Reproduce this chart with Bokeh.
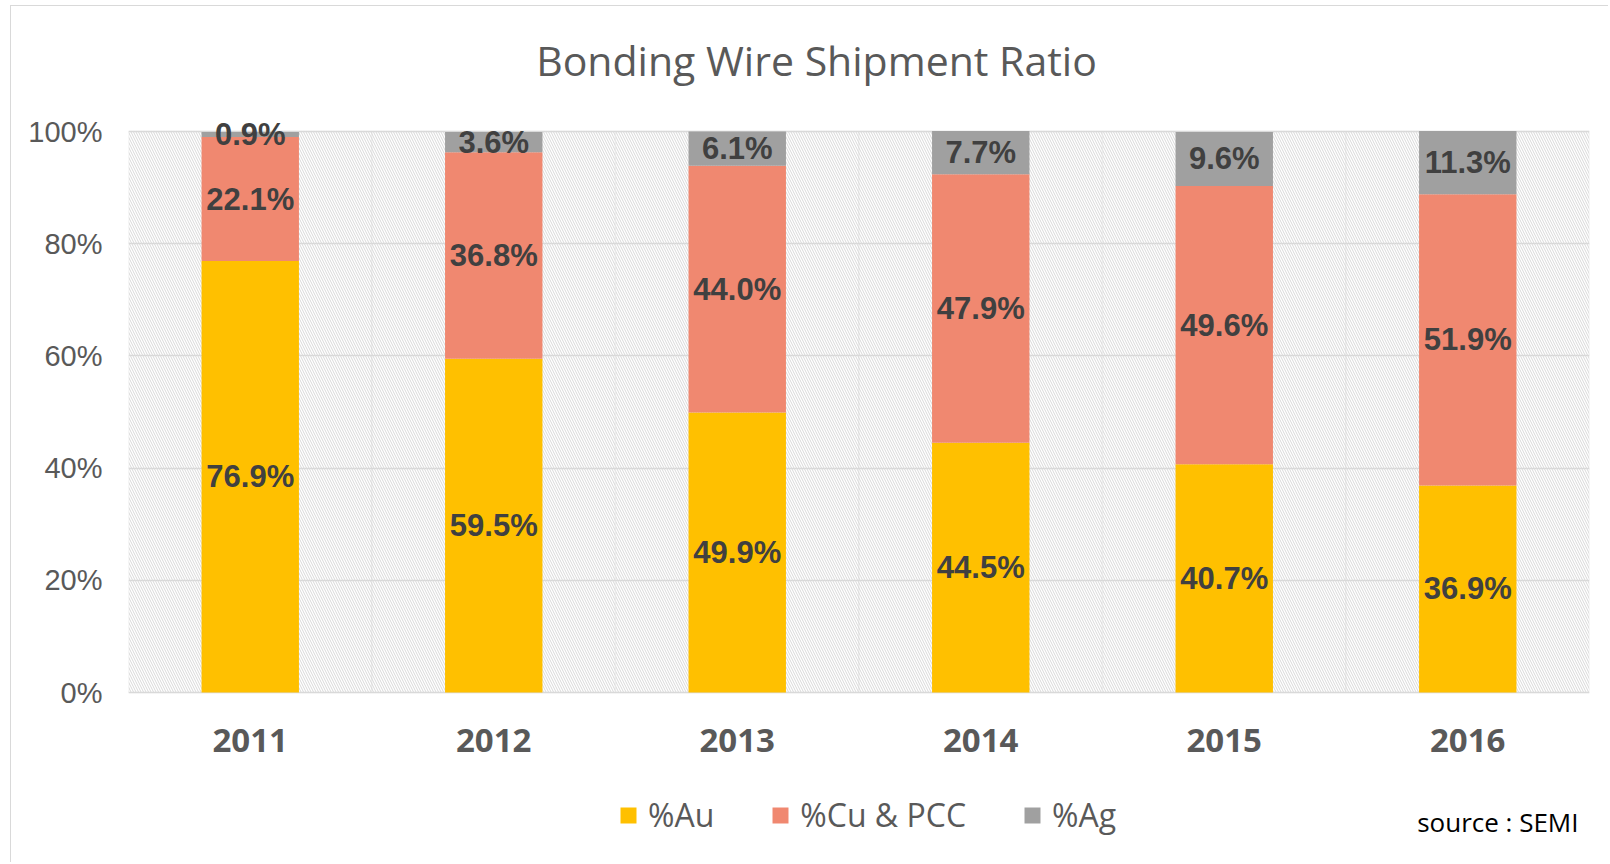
from bokeh.plotting import figure
from bokeh.models import (ColumnDataSource, LabelSet, Label, Legend, LegendItem,
                          FixedTicker, PrintfTickFormatter, BoxAnnotation,
                          FactorRange, Range1d)
from bokeh.core.properties import value
from bokeh.embed import file_html
from bokeh.resources import INLINE

# ---- data ----
years = ["2011", "2012", "2013", "2014", "2015", "2016"]
au = [76.9, 59.5, 49.9, 44.5, 40.7, 36.9]
cu = [22.1, 36.8, 44.0, 47.9, 49.6, 51.9]
ag = [0.9, 3.6, 6.1, 7.7, 9.6, 11.3]
series_keys = ["au", "cu", "ag"]
series_names = ["%Au", "%Cu & PCC", "%Ag"]
colors = ["#FFC000", "#F08870", "#A0A0A0"]
y_ticks = [0, 20, 40, 60, 80, 100]
title_text = "Bonding Wire Shipment Ratio"
source_text = "source : SEMI"

# ---- layout (pixels) ----
W, H = 1598, 857           # canvas, placed at page x=11, y=6
CANVAS_TOP = 6
FRAME_BOTTOM = CANVAS_TOP + H   # the frame spans the whole canvas height
Y100_PX, Y0_PX = 131, 692       # where 100% and 0% lie on the page
ppu = (Y0_PX - Y100_PX) / 100.0
y_start = -(FRAME_BOTTOM - Y0_PX) / ppu
y_end = 100 + (Y100_PX - CANVAS_TOP) / ppu

src = ColumnDataSource(dict(year=years, au=au, cu=cu, ag=ag))

p = figure(x_range=FactorRange(*years), y_range=Range1d(y_start, y_end),
           width=W, height=H, output_backend="svg", toolbar_location=None,
           min_border_left=117, min_border_right=20, min_border_top=0,
           min_border_bottom=0)
p.background_fill_color = "white"
p.border_fill_color = "white"
p.outline_line_color = None

# hatched plot area, one cell per category (gives the vertical separators too)
for i in range(len(years)):
    p.add_layout(BoxAnnotation(left=i, right=i + 1, bottom=0, top=100,
                               fill_color="white", fill_alpha=1.0,
                               hatch_pattern="\\", hatch_color="#d8d8d8",
                               hatch_scale=5, hatch_weight=1,
                               line_color="#d9d9d9", line_width=1.5,
                               level="image"))

renderers = p.vbar_stack(series_keys, x="year", width=0.4, source=src,
                         fill_color=colors, line_color=None)

# data labels centered in each segment
lx, ly, lt = [], [], []
for i, y in enumerate(years):
    base = 0.0
    for vals in (au, cu, ag):
        v = vals[i]
        lx.append(y)
        ly.append(base + v / 2.0)
        lt.append(f"{v:.1f}%")
        base += v
lab_src = ColumnDataSource(dict(x=lx, y=ly, text=lt))
labels = LabelSet(x="x", y="y", text="text", source=lab_src,
                  text_align="center", text_baseline="middle",
                  text_font=value("Liberation Sans"), text_font_style="bold",
                  text_font_size="31px", text_color="#404040")
p.add_layout(labels)

# axes
p.yaxis.ticker = FixedTicker(ticks=y_ticks)
p.yaxis.formatter = PrintfTickFormatter(format="%d%%")
p.yaxis.axis_line_color = None
p.yaxis.major_tick_line_color = None
p.yaxis.major_tick_out = 0
p.yaxis.major_tick_in = 0
p.yaxis.minor_tick_line_color = None
p.yaxis.major_label_standoff = 26
p.yaxis.major_label_text_font = "Liberation Sans"
p.yaxis.major_label_text_font_size = "29px"
p.yaxis.major_label_text_color = "#595959"

p.xaxis.fixed_location = 0
p.xaxis.axis_line_color = None
p.xaxis.major_tick_line_color = None
p.xaxis.major_tick_out = 0
p.xaxis.major_tick_in = 0
p.xaxis.major_label_standoff = 36
p.xaxis.major_label_text_font = "Open Sans"
p.xaxis.major_label_text_font_style = "bold"
p.xaxis.major_label_text_font_size = "33px"
p.xaxis.major_label_text_color = "#595959"

# grids
p.ygrid.ticker = FixedTicker(ticks=y_ticks)
p.ygrid.grid_line_color = "#d9d9d9"
p.ygrid.grid_line_width = 1.5
p.xgrid.grid_line_color = None

# title and source note (screen units, measured up from the frame bottom)
p.add_layout(Label(x=816 - 128, y=FRAME_BOTTOM - 59, x_units="screen",
                   y_units="screen", text=title_text, text_font="Open Sans",
                   text_font_size="41px", text_color="#595959",
                   text_align="center", text_baseline="alphabetic"))
p.add_layout(Label(x=1578 - 128, y=FRAME_BOTTOM - 821, x_units="screen",
                   y_units="screen", text=source_text, text_font="Open Sans",
                   text_font_size="26px", text_color="#000000",
                   text_align="right", text_baseline="alphabetic"))

# legend
legend = Legend(items=[LegendItem(label=n, renderers=[r])
                       for n, r in zip(series_names, renderers)],
                orientation="horizontal", location=(618 - 128, FRAME_BOTTOM - 836),
                label_text_font="Open Sans", label_text_font_size="32px",
                label_text_color="#595959", glyph_width=20, glyph_height=20,
                label_standoff=10, spacing=56, padding=0, margin=0,
                border_line_color=None, background_fill_alpha=0)
p.add_layout(legend)

p.styles = {"margin-left": "10px", "margin-top": "5px",
            "border-left": "1px solid #d9d9d9", "border-top": "1px solid #d9d9d9"}

open("out.html", "w").write(file_html(p, INLINE))
